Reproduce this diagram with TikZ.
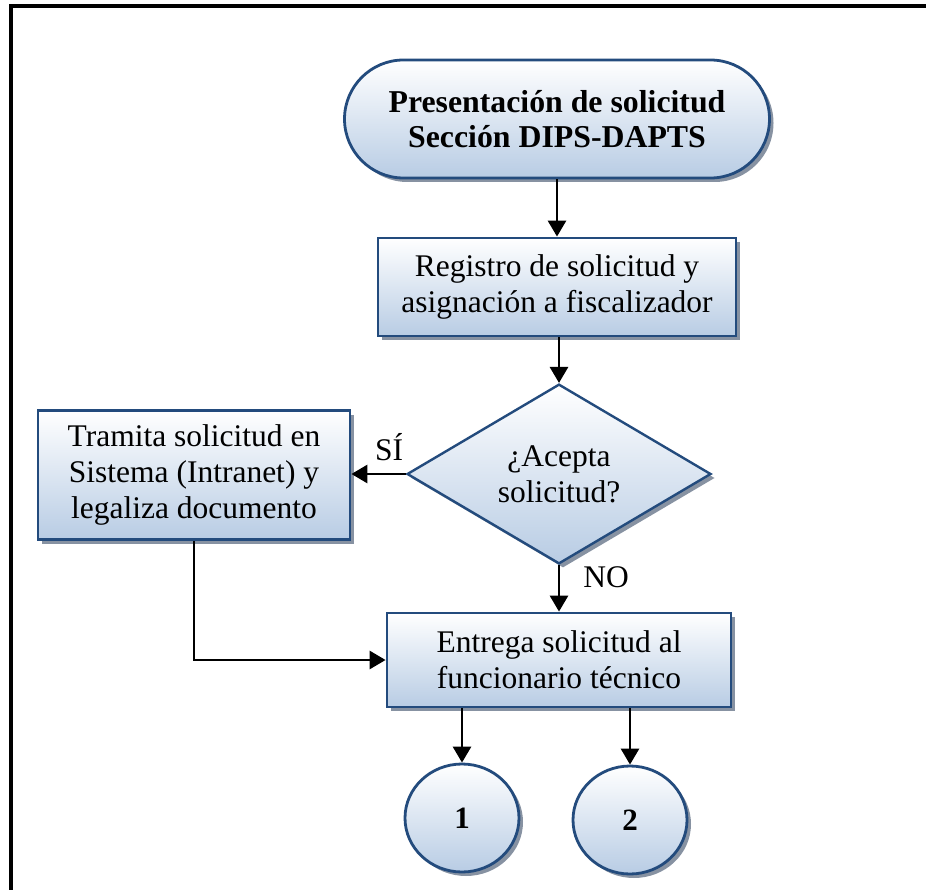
\documentclass[tikz,border=0pt]{standalone}
\usepackage{fontspec}
\setmainfont{Liberation Serif}
\usetikzlibrary{shapes.geometric,arrows.meta,shadows}

\definecolor{edgeblue}{RGB}{35,75,125}
\definecolor{fillblue}{RGB}{184,204,228}
\definecolor{shadowgray}{RGB}{135,146,162}

\tikzset{
  base/.style={draw=edgeblue, line width=2.8pt, top color=white, bottom color=fillblue,
    drop shadow={shadow xshift=4pt, shadow yshift=-4pt, fill=shadowgray, opacity=1},
    align=center, inner sep=0pt, font=\fontsize{31.5}{36}\selectfont},
  terminal/.style={base, rectangle, rounded corners=59pt, minimum width=425pt, minimum height=118pt,
    font=\fontsize{31.8}{35}\selectfont\bfseries},
  process/.style={base, rectangle},
  decision/.style={base, diamond, minimum width=304pt, minimum height=159pt, line width=2.4pt},
  connector/.style={base, ellipse, minimum width=114pt, minimum height=108pt,
    font=\fontsize{31}{36}\selectfont\bfseries},
  arr/.style={line width=2.8pt, -{Triangle[length=16pt,width=18pt]}},
  lbl/.style={font=\fontsize{31.5}{36}\selectfont, inner sep=0pt}
}

\begin{document}
\begin{tikzpicture}[x=1pt,y=-1pt]
  \useasboundingbox (0,0) rectangle (926,890);

  % open frame: top and left edges
  \draw[line width=4.5pt] (11,895) -- (11,6) -- (930,6);

  % nodes
  \node[terminal] (start) at (557,119) {Presentación de solicitud\\Sección DIPS-DAPTS};
  \node[process, minimum width=358pt, minimum height=98pt] (reg) at (557,287)
    {Registro de solicitud y\\asignación a fiscalizador};
  \node[decision] (dec) at (559,474) {¿Acepta\\solicitud?};
  \node[process, minimum width=312pt, minimum height=129pt] (tram) at (194,475)
    {Tramita solicitud en\\Sistema (Intranet) y\\legaliza documento};
  \node[process, minimum width=344pt, minimum height=94pt] (ent) at (559,660)
    {Entrega solicitud al\\funcionario técnico};
  \node[connector] (c1) at (462,818) {1};
  \node[connector] (c2) at (630,820) {2};

  % labels
  \node[lbl] (si) at (389,447) {SÍ};
  \node[lbl] (no) at (606,577) {NO};

  % connectors
  \draw[arr] (start.south) -- (start.south |- reg.north);
  \draw[arr] (reg.south -| dec.north) -- (dec.north);
  \draw[arr] (dec.west) -- (tram.east |- dec.west);
  \draw[arr] (dec.south) -- (ent.north -| dec.south);
  \draw[arr] (tram.south) |- (ent.west);
  \draw[arr] (c1.north |- ent.south) -- (c1.north);
  \draw[arr] (c2.north |- ent.south) -- (c2.north);
\end{tikzpicture}
\end{document}
